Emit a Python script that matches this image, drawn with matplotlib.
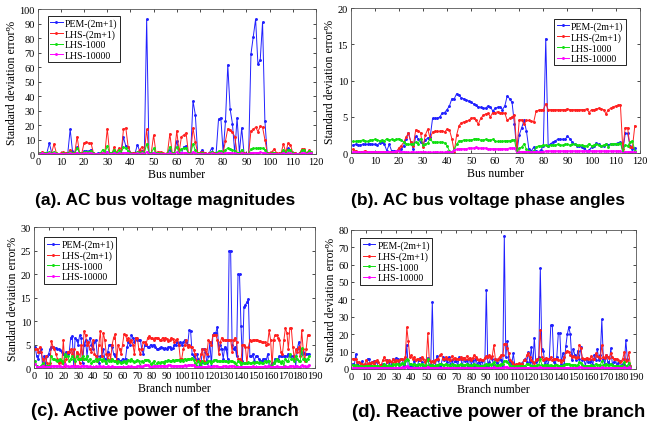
import matplotlib
matplotlib.use("Agg")
import matplotlib.pyplot as plt
import numpy as np

# ---- data ----
series_names = ["PEM-(2m+1)", "LHS-(2m+1)", "LHS-1000", "LHS-10000"]
series_colors = ["#2020ff", "#ff2020", "#10e010", "#ff00ff"]

# (a) AC bus voltage magnitudes, buses 1..118
a_pem = [0.5, 1, 0.5, 1, 7.5, 1, 0.5, 0.3, 0.2, 0.3,
         1, 0.5, 1, 17, 2, 1, 5, 1, 0.5, 2,
         2, 2, 3, 0.5, 0.3, 0.5, 0.5, 1, 0.5, 1.5,
         0.5, 0.5, 2, 0.5, 1, 1, 11.5, 5.5, 5, 1,
         0.5, 0.5, 6.5, 2, 2, 0.5, 93, 1, 0.5, 1,
         1, 1, 0.5, 0.3, 0.3, 0.5, 3, 1, 1, 9,
         1, 0.5, 5, 5.5, 0.5, 1, 36.5, 27, 0.5, 0.5,
         3, 0.5, 0.3, 0.5, 4, 0.5, 1, 24, 25, 1,
         22.5, 61.5, 31, 21, 0.5, 25, 1, 18, 0.5, 0.3,
         0.5, 69, 81, 93, 62, 65, 91, 23, 0.5, 0.5,
         1, 1, 0.5, 0.3, 0.5, 2, 1, 4, 2.5, 1,
         0.5, 0.3, 0.5, 3, 3, 0.5, 2, 1]
a_lhs = [0.5, 1.5, 1, 0.5, 0.5, 0.5, 7, 1, 0.3, 0.5,
         1.5, 0.5, 0.3, 3, 1, 1, 12, 1, 0.5, 7.5,
         8, 7.5, 7.5, 1, 0.3, 0.3, 0.5, 1, 1, 17.5,
         1, 0.5, 4.5, 1, 4, 1, 17, 18, 5, 1,
         0.5, 0.5, 1, 3, 5, 1, 17, 1, 1, 13,
         1, 1.5, 1.5, 0.5, 0.3, 1, 14, 1, 1, 16,
         1, 12, 13, 14.5, 1, 1, 18, 8, 1, 1,
         1.5, 0.5, 0.3, 0.5, 1.5, 0.5, 0.5, 1, 1, 1,
         9, 17.5, 16.5, 15, 12, 1, 1, 1.5, 0.5, 0.3,
         0.5, 16, 17, 18.5, 15.5, 19, 18.5, 10, 1, 0.5,
         1.5, 3.5, 1, 0.5, 0.5, 7, 1, 7.5, 6.5, 1,
         0.5, 0.3, 0.5, 3.5, 3.5, 0.5, 2.5, 1.5]
a_lhs1000 = [0.5, 1, 0.5, 0.5, 1.5, 0.5, 1.5, 0.5, 0.3, 0.3,
             0.5, 0.3, 0.5, 1.5, 0.5, 0.5, 4, 1, 0.3, 1.5,
             1.5, 1.5, 2, 0.5, 0.3, 0.3, 0.5, 3, 1, 5.5,
             0.5, 0.5, 3, 0.5, 2.5, 1, 4.5, 4, 2, 0.5,
             0.3, 0.3, 1.5, 1, 1.5, 0.5, 7, 1, 0.5, 4,
             0.5, 0.5, 0.5, 0.3, 0.3, 0.5, 5, 0.5, 1, 5,
             0.5, 3.5, 4, 4, 0.5, 0.5, 7, 2.5, 0.5, 0.3,
             1, 0.3, 0.3, 0.3, 1.5, 0.3, 0.5, 2, 2, 0.5,
             3, 4, 3.5, 3, 2, 1, 0.5, 3, 0.3, 0.3,
             0.3, 3.5, 3.8, 4, 3.8, 4.2, 4, 3, 0.5, 0.3,
             0.5, 1, 0.3, 0.3, 0.3, 3, 0.5, 3, 2.5, 0.5,
             0.3, 0.3, 0.3, 2.5, 2.5, 0.3, 2, 1.5]
a_lhs10000 = [0.3, 0.4, 0.3, 0.3, 0.5, 0.3, 0.4, 0.2, 0.2, 0.2,
              0.3, 0.2, 0.3, 0.6, 0.3, 0.3, 1, 0.3, 0.2, 0.5,
              0.5, 0.5, 0.6, 0.2, 0.2, 0.2, 0.3, 0.7, 0.3, 1.2,
              0.3, 0.2, 0.6, 0.2, 0.5, 0.3, 1, 1, 0.5, 0.2,
              0.2, 0.2, 0.4, 0.3, 0.4, 0.2, 1.5, 0.3, 0.2, 1,
              0.3, 0.2, 0.2, 0.2, 0.2, 0.2, 1, 0.2, 0.3, 1.2,
              0.2, 0.8, 1, 1, 0.2, 0.2, 1.5, 0.6, 0.2, 0.2,
              0.3, 0.2, 0.2, 0.2, 0.4, 0.2, 0.2, 0.5, 0.5, 0.2,
              0.7, 1, 0.9, 0.8, 0.5, 0.3, 0.2, 0.7, 0.2, 0.2,
              0.2, 0.9, 1, 1, 1, 1.1, 1, 0.8, 0.2, 0.2,
              0.2, 0.3, 0.2, 0.2, 0.2, 0.7, 0.2, 0.8, 0.6, 0.2,
              0.2, 0.2, 0.2, 0.6, 0.6, 0.2, 0.5, 0.4]

# (b) AC bus voltage phase angles, buses 1..118
b_pem = [1.1, 1.2, 1.1, 1.1, 1.2, 1.2, 1.2, 1.3, 1.2, 1.2,
         1.1, 1.4, 1.5, 1.2, 0.3, 1.2, 0.3, 0.3, 0.3, 0.4,
         0.5, 1.0, 2.0, 2.7, 1.5, 0.5, 2.3, 2.0, 1.5, 1.2,
         1.8, 2.1, 2.2, 4.8, 4.8, 4.8, 5.0, 5.5, 5.6, 6.0,
         6.5, 7.5, 7.5, 8.2, 8.0, 7.6, 7.5, 7.3, 7.2, 7.0,
         6.8, 6.6, 6.4, 6.3, 6.2, 6.2, 6.5, 6.4, 5.8, 6.2,
         6.3, 6.4, 6.0, 6.5, 7.9, 7.5, 7.0, 4.0, 0.1, 2.5,
         3.5, 4.5, 3.0, 0.5, 0.3, 0.8, 0.3, 0.2, 0.4, 1.0,
         15.8, 1.0, 1.3, 1.5, 1.7, 1.9, 1.9, 1.9, 1.9, 2.3,
         2.0, 1.5, 1.2, 1.0, 1.0, 0.8, 0.7, 0.3, 0.4, 0.8,
         1.0, 1.4, 1.2, 1.0, 1.0, 1.2, 1.1, 1.3, 1.3, 1.3,
         1.4, 1.5, 0.2, 2.7, 2.7, 1.0, 0.5, 0.7]
b_lhs = [0.5, 0.3, 0.2, 0.2, 0.2, 0.3, 0.2, 0.2, 0.2, 0.2,
         0.2, 0.2, 0.2, 0.2, 0.1, 0.2, 0.2, 0.1, 0.2, 0.7,
         1.0, 1.5, 2.2, 2.8, 1.5, 1.0, 3.2, 3.1, 2.8, 0.8,
         2.5, 3.3, 2.0, 2.9, 3.0, 3.0, 3.0, 3.1, 2.9, 3.3,
         3.2, 2.0, 0.2, 2.5, 3.8, 4.2, 4.3, 4.4, 4.5, 4.8,
         4.9, 4.5, 4.0, 4.8, 5.2, 5.4, 5.5, 5.0, 5.6, 5.6,
         5.7, 5.6, 5.6, 5.5, 4.5, 4.8, 5.0, 5.3, 0.3, 4.6,
         4.6, 4.0, 4.5, 4.5, 4.4, 4.3, 5.8, 5.9, 6.0, 6.0,
         6.8, 6.0, 6.0, 6.0, 6.0, 6.0, 6.0, 6.0, 6.0, 6.1,
         6.0, 6.0, 6.0, 6.0, 6.0, 6.0, 6.0, 6.1, 5.6, 6.0,
         6.0, 6.1, 6.2, 6.1, 6.0, 5.4, 6.0, 6.2, 6.4, 6.5,
         6.6, 6.7, 0.5, 3.5, 3.5, 0.8, 0.8, 3.8]
b_lhs1000 = [1.6, 1.6, 1.7, 1.7, 1.8, 1.7, 1.6, 1.8, 1.8, 1.9,
             1.8, 1.7, 1.8, 1.7, 2.0, 1.8, 1.9, 1.8, 1.9, 2.0,
             1.8, 1.5, 1.3, 1.2, 1.2, 1.3, 1.5, 1.3, 2.0, 1.1,
             1.2, 1.4, 2.0, 1.5, 1.5, 1.5, 1.5, 1.5, 1.4, 1.0,
             0.3, 0.1, 0.5, 1.2, 1.7, 1.7, 1.8, 1.8, 1.8, 1.8,
             1.9, 2.0, 1.9, 1.8, 1.8, 1.9, 1.8, 1.8, 1.9, 1.6,
             1.6, 1.6, 1.6, 1.7, 1.7, 1.7, 1.8, 1.8, 0.1, 0.7,
             0.8, 1.3, 0.5, 0.3, 0.1, 0.3, 0.8, 1.0, 1.0, 1.1,
             1.1, 1.0, 1.1, 1.1, 1.1, 1.2, 1.1, 1.1, 1.2, 1.2,
             1.1, 1.2, 1.2, 1.1, 1.1, 1.1, 1.0, 1.0, 1.3, 1.0,
             1.1, 1.2, 1.1, 1.0, 1.1, 1.2, 0.9, 1.2, 1.3, 1.3,
             1.3, 1.4, 0.2, 1.1, 1.0, 1.5, 1.7, 0.3]
b_lhs10000 = [0.2, 0.2, 0.1, 0.1, 0.2, 0.2, 0.1, 0.2, 0.2, 0.2,
              0.1, 0.2, 0.2, 0.1, 0.2, 0.2, 0.1, 0.2, 0.3, 0.3,
              0.2, 0.2, 0.1, 0.1, 0.1, 0.2, 0.1, 0.1, 0.2, 0.1,
              0.2, 0.1, 0.1, 0.1, 0.1, 0.2, 0.1, 0.1, 0.1, 0.2,
              0.1, 0.2, 0.4, 0.5, 0.6, 0.6, 0.6, 0.6, 0.7, 0.7,
              0.7, 0.8, 0.7, 0.7, 0.7, 0.7, 0.6, 0.6, 0.6, 0.6,
              0.6, 0.6, 0.6, 0.6, 0.6, 0.7, 0.7, 0.7, 0.0, 0.2,
              0.2, 0.2, 0.2, 0.2, 0.1, 0.2, 0.2, 0.2, 0.2, 0.2,
              0.3, 0.3, 0.3, 0.3, 0.3, 0.3, 0.3, 0.3, 0.3, 0.3,
              0.3, 0.3, 0.3, 0.3, 0.3, 0.3, 0.3, 0.3, 0.3, 0.3,
              0.3, 0.3, 0.3, 0.3, 0.3, 0.3, 0.3, 0.3, 0.3, 0.3,
              0.3, 0.3, 0.0, 0.2, 0.2, 0.2, 0.2, 0.1]

# (c) active power of the branch, branches 1..186
c_pem = [4.5, 2.5, 2, 3.5, 4, 0.5, 2.5, 0.5, 2.5, 3,
         4, 4.5, 4.5, 4.3, 4.2, 4, 4, 3.8, 3.5, 3,
         2.5, 3.5, 3, 3.5, 6.5, 6.8, 0.5, 6.5, 6, 5,
         7, 6.5, 1, 5, 6, 2.5, 5.5, 6.5, 5, 4,
         5.5, 6, 2.5, 1, 2.5, 2.5, 4, 2, 1, 3.5,
         5, 5, 4.5, 3, 2.5, 2, 2, 1.5, 1.5, 2,
         1.5, 2, 4.5, 5.5, 5, 7, 6.5, 5.5, 6.5, 6,
         6, 6, 4, 3, 5, 5, 4.5, 4.5, 5, 4.8,
         5, 4.5, 4, 4, 4.3, 4.5, 4.2, 4, 4.2, 4,
         4.5, 4.5, 4, 4.2, 5, 5, 5.5, 5, 5.5, 5,
         5.5, 6, 5.5, 5, 8, 7.8, 3, 2.5, 2, 3,
         2, 0.5, 1, 4, 4, 3.5, 1, 2.5, 5.5, 0.5,
         7, 7.5, 7.5, 8.8, 4, 5, 4, 2, 4.5, 4,
         2, 25, 25, 5, 4, 4.5, 2.5, 20, 20, 9,
         1.5, 13, 13.5, 14, 14.8, 2.5, 2.5, 3, 1.5, 2.5,
         2.5, 2, 1.5, 1.5, 2, 2, 1.5, 3, 0.5, 0.5,
         1, 1, 2, 2, 2, 2.5, 2.5, 2.5, 2.5, 2.5,
         2.5, 3, 2.5, 2.5, 2.5, 2.5, 0.5, 4, 5.5, 4,
         3, 3.5, 3, 3, 3, 3]
c_lhs = [4, 4, 3.5, 4.5, 3.5, 2, 0.5, 2.5, 1, 0.5,
         1, 5.8, 4.5, 4, 3, 2, 1, 1.5, 1, 6,
         0.5, 2, 3.5, 3.5, 4, 3, 4, 0.5, 3.5, 3,
         1, 5, 2, 7.8, 7, 5, 5.5, 4, 3.5, 6,
         3, 2.5, 1.5, 5, 7.8, 2.5, 7.5, 6, 3, 2,
         3, 2, 5, 6.5, 7.2, 1.5, 5, 4, 3, 5,
         7.2, 7, 6, 6.5, 5.5, 6, 5, 3, 6.5, 6.5,
         4, 3, 4, 5.5, 5.5, 5.2, 6.5, 6.8, 6.5, 6.3,
         6, 6.5, 6.5, 6.3, 6, 6, 6.5, 6, 6.5, 6.2,
         5.8, 6, 6.5, 6.2, 5.5, 6, 6.2, 5, 2, 2,
         4, 5, 6, 4.5, 5, 4.5, 4.5, 3.8, 3, 1.5,
         1.5, 1.5, 3, 4, 1.5, 4, 3, 6, 5.5, 5,
         7, 7, 7, 6, 3, 5.5, 6.5, 6, 6, 6,
         6, 6, 6, 3.5, 6, 6.5, 5.5, 2, 2, 1.5,
         5, 5, 4.5, 1, 4.5, 6, 5.8, 6, 6, 6,
         6, 5.8, 5.8, 5.5, 5.5, 5.5, 5, 5.2, 8, 6,
         0.5, 6, 7, 7, 6.5, 6, 3.5, 3, 6, 8.5,
         7.5, 4, 8.5, 8.5, 4.5, 2, 4, 3.5, 4.5, 2.5,
         8, 4, 1.5, 4, 7, 7]
c_lhs1000 = [1.5, 0.5, 0.3, 0.3, 0.5, 1, 0.3, 0.3, 0.5, 0.5,
             0.5, 2.5, 2, 2, 1.8, 1.5, 1.8, 2, 1.5, 1,
             3, 2.5, 2.5, 1.5, 2, 2.5, 2, 1.5, 2.5, 2,
             2, 2, 2.5, 2, 2, 2.5, 1.5, 2, 1, 1.5,
             1.5, 2, 1.5, 2, 2, 1.5, 2, 1.5, 1, 1.8,
             1.5, 1.5, 2, 1.5, 1.5, 1, 1.5, 1.3, 1, 1.3,
             1.5, 1, 1.5, 1.8, 1.5, 2, 1.5, 1.3, 1.5, 1.8,
             1.5, 0.5, 1.5, 1.3, 1.8, 1.7, 1.8, 1.5, 0.8, 1,
             1.5, 0.5, 1, 1.2, 1, 1.2, 1.3, 1, 1.5, 1.5,
             1.8, 1.5, 1.5, 1.8, 1.5, 1.8, 1.8, 1.8, 1.5, 1.8,
             1.5, 2, 1.8, 2, 2, 2, 2.2, 1.8, 1, 0.5,
             1.5, 1, 0.5, 1.5, 1, 1, 1.2, 1.5, 1.5, 1,
             1.5, 1.8, 1.8, 1.5, 1.5, 1.5, 1.5, 1.5, 1.5, 1.5,
             1.3, 1.5, 1.5, 1.5, 1.3, 1, 0.5, 1.5, 1.3, 0.5,
             1, 1, 1, 1, 1.2, 1, 1, 1.2, 1, 1.2,
             1.3, 1, 1.2, 1, 1, 1.5, 1.2, 1.5, 1.5, 0.3,
             0.5, 1, 1.5, 2, 1.5, 1.5, 1, 1.5, 0.5, 2,
             1.5, 1.5, 3, 2, 2, 1.5, 2.5, 2, 1.5, 1.5,
             4.2, 2, 2, 1.5, 2, 2.5]
c_lhs10000 = [0.8, 0.3, 0.2, 0.2, 0.3, 0.5, 0.2, 0.2, 0.2, 0.2,
              0.2, 0.5, 0.4, 0.4, 0.5, 0.4, 0.4, 0.5, 0.3, 0.2,
              0.8, 0.5, 0.4, 0.3, 0.4, 0.5, 0.4, 0.3, 0.5, 0.4,
              0.3, 0.4, 0.5, 0.4, 0.4, 0.5, 0.3, 0.4, 0.2, 0.3,
              0.3, 0.4, 0.3, 0.4, 0.4, 0.3, 0.4, 0.3, 0.2, 0.4,
              0.3, 0.3, 0.4, 0.3, 0.3, 0.2, 0.3, 0.3, 0.2, 0.3,
              0.3, 0.2, 0.3, 0.4, 0.3, 0.4, 0.3, 0.3, 0.3, 0.4,
              0.5, 0.4, 0.3, 0.5, 0.6, 0.7, 0.6, 0.5, 0.3, 0.3,
              0.5, 0.5, 0.4, 0.4, 0.5, 0.5, 0.5, 0.5, 0.5, 0.5,
              0.6, 0.6, 0.5, 0.5, 0.5, 0.5, 0.5, 0.5, 0.5, 0.5,
              0.5, 0.6, 0.5, 0.6, 0.7, 0.7, 0.7, 0.6, 0.3, 0.2,
              0.3, 0.3, 0.2, 0.3, 0.3, 0.3, 0.3, 0.4, 0.3, 0.3,
              0.4, 0.4, 0.4, 0.4, 0.3, 0.3, 0.3, 0.4, 0.4, 0.4,
              0.3, 0.4, 0.4, 0.4, 0.4, 0.3, 0.2, 0.3, 0.3, 0.2,
              0.3, 0.3, 0.3, 0.3, 0.3, 0.3, 0.3, 0.4, 0.3, 0.3,
              0.3, 0.3, 0.3, 0.3, 0.3, 0.4, 0.3, 0.4, 0.4, 0.2,
              0.2, 0.3, 0.3, 0.4, 0.3, 0.3, 0.3, 0.3, 0.2, 0.4,
              0.3, 0.3, 0.5, 0.4, 0.4, 0.3, 0.5, 0.4, 0.3, 0.3,
              0.6, 0.4, 0.4, 0.3, 0.4, 0.7]

# (d) reactive power of the branch, branches 1..186
d_pem = [3, 2, 8.5, 3, 2, 1.5, 4.5, 2, 1.5, 1,
         6, 5.5, 1.5, 4, 4.5, 4, 4.5, 1, 1.5, 1,
         3, 1, 1.5, 5, 4, 1.5, 3, 6, 4.5, 6.5,
         6, 2.5, 6, 5.5, 1.5, 1.5, 14, 0.5, 1.5, 2,
         1, 4.5, 2, 1.5, 5, 6.5, 4, 1.5, 2, 5,
         6.5, 1.5, 2.5, 38.5, 2, 1.5, 7.5, 5, 1.5, 3,
         7, 5, 5.5, 4, 7, 2, 5, 2.5, 4.5, 4.5,
         2, 7, 6, 1.5, 6.5, 4.5, 5, 2, 6, 2.5,
         5, 2, 6, 3, 4, 2.5, 4.5, 2, 2, 45.5,
         2, 4, 7, 5.5, 1.5, 5.5, 3.5, 2.5, 6, 5,
         1.5, 76.5, 7, 16, 5, 4, 3, 9, 2, 2,
         2.5, 2, 2.5, 3.5, 5, 6, 4, 9.5, 4, 12.5,
         2, 18, 4, 5, 7, 58, 11.5, 10.5, 3, 5,
         2, 6, 25, 25, 4, 3, 7, 20.5, 20.5, 3,
         9, 3, 13, 20, 24, 20, 5, 11.5, 8, 5,
         10.5, 6, 12.5, 5, 6, 2, 5.5, 4, 4, 5,
         2.5, 8, 5, 11.5, 5, 8, 28.5, 6, 3, 8,
         4, 3, 12, 3, 4, 6, 2, 3.5, 4.5, 2,
         3, 2.5, 16.5, 6, 3, 2]
d_lhs = [6, 6, 5.5, 4, 4, 3.5, 3, 2, 3, 5,
         3, 3.5, 3.5, 4, 3, 4.5, 5, 4, 2.5, 2.5,
         5, 7, 5, 4, 5, 4.5, 4, 5.5, 4, 5,
         4.5, 5, 5.5, 6, 5, 7, 24, 16, 7, 8,
         6, 7, 5, 5.5, 6, 5, 7, 5.5, 4, 5,
         20.5, 5, 4, 4.5, 4, 5, 5.5, 6, 8, 8.5,
         6, 5.5, 7, 6, 5.5, 5, 7.5, 6, 6.5, 5.5,
         6, 5.5, 7, 6, 6.5, 6, 7.5, 6, 6.5, 5,
         6.5, 8, 7, 6, 5, 5.5, 5, 5, 6.5, 7.5,
         7, 8, 6.5, 7.5, 13.5, 6, 5, 6, 7, 8,
         8, 14.5, 14.5, 12, 9, 5, 4, 3, 2.5, 3,
         3, 3.5, 3, 3, 5, 5, 8, 9, 7, 5,
         4, 3.5, 5, 6, 6, 22.5, 7, 5, 6, 6.5,
         6, 5.5, 7, 5, 6, 6, 6, 5, 5, 4,
         5, 7, 10, 10.5, 10, 8, 7, 7.5, 7, 6.5,
         7, 14, 12, 6.5, 6, 6, 6.5, 6, 6, 7.5,
         6, 5.5, 9, 7.5, 7, 6.5, 13.5, 7, 6.5, 8,
         7, 6.5, 9, 7, 6, 6, 5.5, 5, 4, 4.5,
         6, 10, 4.5, 5, 9.5, 2]
d_lhs1000 = [2.5, 2, 2.5, 2, 1.5, 2, 1.5, 1, 1.5, 2,
             2, 1.5, 1.5, 2, 1.5, 2, 2, 1.5, 1, 1,
             2, 3, 2, 2, 2.5, 2, 2, 3, 2.5, 3,
             3, 2.5, 3, 3.5, 3, 4.5, 5.5, 5, 3, 3,
             2.5, 3, 2.5, 2.5, 3, 2.5, 3, 2.5, 2, 2.5,
             5.5, 2.5, 2, 2.5, 2, 2, 2.5, 2.5, 3, 3,
             2.5, 2.5, 3, 2.5, 2.5, 2, 3, 2.5, 2.5, 2,
             2.5, 2.5, 3, 2.5, 2.5, 2.5, 3, 2.5, 2.5, 2,
             2.5, 3, 2.5, 2.5, 2, 2, 2, 2, 2.5, 3,
             2.5, 3, 2.5, 3, 4, 2.5, 2, 2.5, 2.5, 3,
             3, 4.5, 4.5, 4, 3, 2, 1.5, 1.5, 1, 1.5,
             1.5, 1.5, 1.5, 1.5, 2, 2, 3, 3, 2.5, 2,
             1.5, 1.5, 2, 2.5, 2.5, 5.5, 2.5, 2, 2.5, 2.5,
             2.5, 2, 2.5, 2, 2, 2.5, 2.5, 2, 2, 1.5,
             2, 2.5, 3, 3, 3, 2.5, 2.5, 2.5, 2.5, 2,
             2.5, 4, 3.5, 2.5, 2, 2, 2, 2, 2, 2.5,
             2, 2, 3, 2.5, 2.5, 2.5, 4.5, 2.5, 2.5, 3,
             2.5, 2.5, 3, 2.5, 2, 2, 2, 2, 1.5, 1.5,
             2, 4, 2, 2, 3.5, 1]
d_lhs10000 = [0.8, 0.6, 0.7, 0.6, 0.5, 0.5, 0.5, 0.4, 0.5, 0.6,
              0.6, 0.5, 0.5, 0.6, 0.5, 0.6, 0.6, 0.5, 0.4, 0.4,
              0.6, 0.8, 0.6, 0.6, 0.7, 0.6, 0.6, 0.8, 0.7, 0.8,
              0.8, 0.7, 0.8, 0.9, 0.8, 1.2, 1.5, 1.3, 0.8, 0.8,
              0.7, 0.8, 0.7, 0.7, 0.8, 0.7, 0.8, 0.7, 0.6, 0.7,
              1.4, 0.7, 0.6, 0.7, 0.6, 0.6, 0.7, 0.7, 0.8, 0.8,
              0.7, 0.7, 0.8, 0.7, 0.7, 0.6, 0.8, 0.7, 0.7, 0.6,
              0.7, 0.7, 0.8, 0.7, 0.7, 0.7, 0.8, 0.7, 0.7, 0.6,
              0.7, 0.8, 0.7, 0.7, 0.6, 0.6, 0.6, 0.6, 0.7, 0.8,
              0.7, 0.8, 0.7, 0.8, 1.0, 0.7, 0.6, 0.7, 0.7, 0.8,
              0.8, 1.2, 1.2, 1.0, 0.8, 0.6, 0.5, 0.5, 0.4, 0.5,
              0.5, 0.5, 0.5, 0.5, 0.6, 0.6, 0.8, 0.8, 0.7, 0.6,
              0.5, 0.5, 0.6, 0.7, 0.7, 1.4, 0.7, 0.6, 0.7, 0.7,
              0.7, 0.6, 0.7, 0.6, 0.6, 0.7, 0.7, 0.6, 0.6, 0.5,
              0.6, 0.7, 0.8, 0.8, 0.8, 0.7, 0.7, 0.7, 0.7, 0.6,
              0.7, 1.0, 0.9, 0.7, 0.6, 0.6, 0.6, 0.6, 0.6, 0.7,
              0.6, 0.6, 0.8, 0.7, 0.7, 0.7, 1.2, 0.7, 0.7, 0.8,
              0.7, 0.7, 0.8, 0.7, 0.6, 0.6, 0.6, 0.6, 0.5, 0.5,
              0.6, 1.0, 0.6, 0.6, 0.9, 0.3]

panel_titles = ["(a). AC bus voltage magnitudes", "(b). AC bus voltage phase angles",
                "(c). Active power of the branch", "(d). Reactive power of the branch"]

serif = ["Liberation Serif", "DejaVu Serif"]
sans = ["Liberation Sans", "DejaVu Sans"]


def draw_panel(ax, series, xlabel, xmax, ymax, ystep, leg_loc, leg_anchor):
    for vals, name, col in zip(series, series_names, series_colors):
        x = np.arange(1, len(vals) + 1)
        ax.plot(x, vals, color=col, lw=0.7, marker=".", ms=2.2, label=name)
    ax.set_xlim(0, xmax)
    ax.set_ylim(0, ymax)
    ax.set_xticks(np.arange(0, xmax + 1, 10))
    ax.set_yticks(np.arange(0, ymax + 0.01, ystep))
    ax.tick_params(direction="in", length=2.5, width=0.5, labelsize=7.5,
                   top=True, right=True, pad=2)
    for lab in ax.get_xticklabels() + ax.get_yticklabels():
        lab.set_family(serif)
    for sp in ax.spines.values():
        sp.set_linewidth(0.6)
        sp.set_color("#555555")
    ax.set_xlabel(xlabel, family=serif, fontsize=8.5, labelpad=1.5)
    ax.set_ylabel("Standard deviation error%", family=serif, fontsize=8.5, labelpad=1)
    leg = ax.legend(loc=leg_loc, bbox_to_anchor=leg_anchor, borderaxespad=0,
                    prop={"family": serif, "size": 7}, fancybox=False,
                    edgecolor="black", framealpha=1, handlelength=1.3,
                    handletextpad=0.2, labelspacing=0.15, borderpad=0.25)
    leg.get_frame().set_linewidth(0.6)


fig = plt.figure(figsize=(6.56, 4.27), dpi=100)

ax_a = fig.add_axes([0.0575, 0.637, 0.424, 0.3395])
draw_panel(ax_a, [a_pem, a_lhs, a_lhs1000, a_lhs10000], "Bus number",
           120, 100, 10, "upper left", (0.036, 0.954))
ax_b = fig.add_axes([0.5346, 0.6393, 0.4405, 0.3389])
draw_panel(ax_b, [b_pem, b_lhs, b_lhs1000, b_lhs10000], "Bus number",
           120, 20, 5, "upper right", (0.953, 0.926))
ax_c = fig.add_axes([0.0514, 0.1358, 0.4288, 0.3295])
draw_panel(ax_c, [c_pem, c_lhs, c_lhs1000, c_lhs10000], "Branch number",
           190, 30, 5, "upper left", (0.038, 0.929))
ax_d = fig.add_axes([0.5355, 0.1335, 0.4345, 0.3262])
draw_panel(ax_d, [d_pem, d_lhs, d_lhs1000, d_lhs10000], "Branch number",
           190, 80, 10, "upper left", (0.032, 0.94))

# panel captions
for (tx, ty), txt, fs in zip([(165, 200), (488, 200), (165, 412), (499, 413)],
                             panel_titles, [12.5, 12.5, 13.2, 13.4]):
    fig.text(tx / 656, 1 - ty / 427, txt, ha="center", va="center",
             family=sans, fontweight="bold", fontsize=fs)

fig.savefig("out.png", dpi=100)
